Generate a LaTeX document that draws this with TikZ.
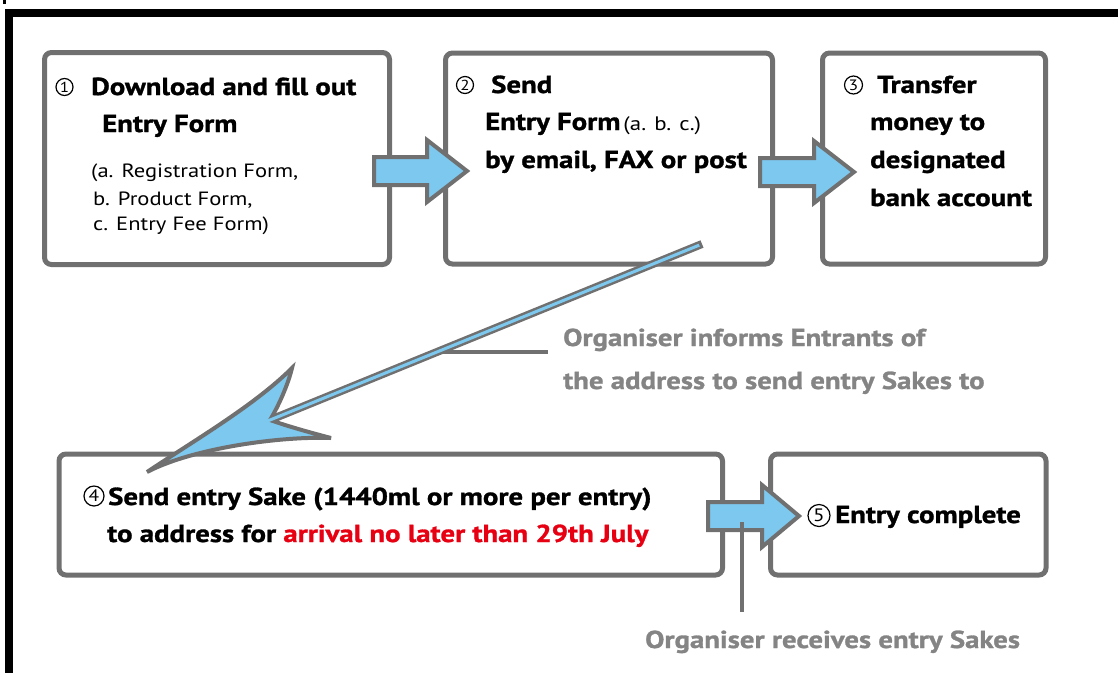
\documentclass[tikz,border=0pt]{standalone}
\usepackage{fontspec}
\setmainfont{PT Sans}[FakeStretch=1.175, BoldFeatures={FakeBold=1.2}]
\usetikzlibrary{calc}
\definecolor{boxgray}{RGB}{112,112,112}
\definecolor{notegray}{RGB}{132,132,132}
\definecolor{skyblue}{RGB}{125,200,238}
\definecolor{alertred}{RGB}{230,0,18}
\tikzset{
  box/.style={draw=boxgray, line width=5pt, rounded corners=7pt, inner sep=0},
  maintxt/.style={anchor=base west, inner sep=0, font=\fontsize{24.5}{28}\selectfont\bfseries},
  subtxt/.style={anchor=base west, inner sep=0, font=\fontsize{19.2}{22}\selectfont},
  notetxt/.style={maintxt, text=notegray},
  cnum/.style n args={2}{circle, draw=black, line width=1.2pt, inner sep=0, minimum size=#1,
    font=\fontsize{#2}{#2}\selectfont},
  barrow/.style={draw=boxgray, fill=skyblue, line width=4pt, line join=miter},
  callout/.style={draw=boxgray, line width=4pt},
}
\newcommand\blockarrow[3]{% start, tip, head length
  \draw[barrow] let \p1=(#1), \p2=(#2) in
    (\x1,\y1+14pt) -- (\x2-#3,\y1+14pt) -- (\x2-#3,\y1+31pt) -- (\x2,\y2)
    -- (\x2-#3,\y1-31pt) -- (\x2-#3,\y1-14pt) -- (\x1,\y1-14pt) -- cycle;}
\begin{document}
\begin{tikzpicture}[x=1pt,y=-1pt]
\useasboundingbox (0,0) rectangle (1118,673);
% frame
\fill[black] (5,9) rectangle (1118,17);
\fill[black] (5,9) rectangle (13,673);
\fill[black] (3,0) rectangle (5.5,4);
% boxes
\node[box, minimum width=345pt, minimum height=212pt] (b1) at (217,158.5) {};
\node[box, minimum width=327pt, minimum height=211pt] (b2) at (609,158.5) {};
\node[box, minimum width=223pt, minimum height=211pt] (b3) at (934,158.5) {};
\node[box, minimum width=663.5pt, minimum height=121pt] (b4) at (390.75,514.5) {};
\node[box, minimum width=275.5pt, minimum height=121pt] (b5) at (908.25,514.5) {};
% circled numbers
\node[cnum={17pt}{14.5}] (k1) at (64.5,87) {1};
\node[cnum={17pt}{14.5}] (k2) at (465,85) {2};
\node[cnum={18pt}{15}] (k3) at (853.5,85) {3};
\node[cnum={20pt}{16.5}] (k4) at (94,496) {4};
\node[cnum={22pt}{18}] (k5) at (819,515.5) {5};
% box texts
\node[maintxt] (t1a) at (91,95) {Download and fill out};
\node[maintxt] (t1b) at (102,132) {Entry Form};
\node[subtxt] (t1c) at (91,177) {(a. Registration Form,};
\node[subtxt] (t1d) at (93,205) {b. Product Form,};
\node[subtxt] (t1e) at (93,230) {c. Entry Fee Form)};
\node[maintxt] (t2a) at (491,93) {Send};
\node[maintxt] (t2b) at (485,130) {Entry Form\hspace{3pt}{\mdseries\fontsize{19.5}{22}\selectfont(a. b. c.)}};
\node[maintxt] (t2c) at (485,168) {by email, FAX or post};
\node[maintxt] (t3a) at (877,93) {Transfer};
\node[maintxt] (t3b) at (870,130) {money to};
\node[maintxt] (t3c) at (870,168) {designated};
\node[maintxt] (t3d) at (870,206) {bank account};
\node[maintxt] (t4a) at (108,505) {Send entry Sake (1440ml or more per entry)};
\node[maintxt] (t4b) at (107,542) {to address for \textcolor{alertred}{arrival no later than 29th July}};
\node[maintxt] (t5a) at (835,523) {Entry complete};
% notes
\node[notetxt] (n1) at (563,346) {Organiser informs Entrants of};
\node[notetxt] (n2) at (563,389) {the address to send entry Sakes to};
\node[notetxt] (n3) at (645,648) {Organiser receives entry Sakes};
% block arrows
\coordinate (a1s) at (374,171);
\coordinate (a1e) at (467,171);
\coordinate (a2s) at (760,172);
\coordinate (a2e) at (854,172);
\coordinate (a3s) at (708,516);
\coordinate (a3e) at (799,516);
\blockarrow{a1s}{a1e}{40pt}
\blockarrow{a2s}{a2e}{40pt}
\blockarrow{a3s}{a3e}{37pt}
% callouts
\coordinate (c1s) at (443,352);
\coordinate (c1e) at (548,352);
\draw[callout] (c1s) -- (c1e);
\coordinate (c2s) at (742,522);
\coordinate (c2e) at (742,612);
\draw[callout] (c2s) -- (c2e);
% diagonal arrow
\coordinate (ds) at (702,244);
\coordinate (dn) at (270,420);
\coordinate (dt) at (147,472);
\coordinate (du) at (292,368);
\coordinate (dl) at (331,438);
\draw[boxgray, line width=8pt] (ds) -- (dn);
\draw[draw=boxgray, fill=skyblue, line width=4pt, line join=miter, miter limit=6]
  (dt) .. controls (195,440) and (255,405) .. (du)
       .. controls (288,385) and (278,407) .. (dn)
       .. controls (290,427) and (312,433) .. (dl)
       .. controls (285,436) and (195,447) .. (dt) -- cycle;
\draw[skyblue, line width=3pt] ($(ds)!3pt!(dn)$) -- ($(dn)!-14pt!(ds)$);
\end{tikzpicture}
\end{document}
